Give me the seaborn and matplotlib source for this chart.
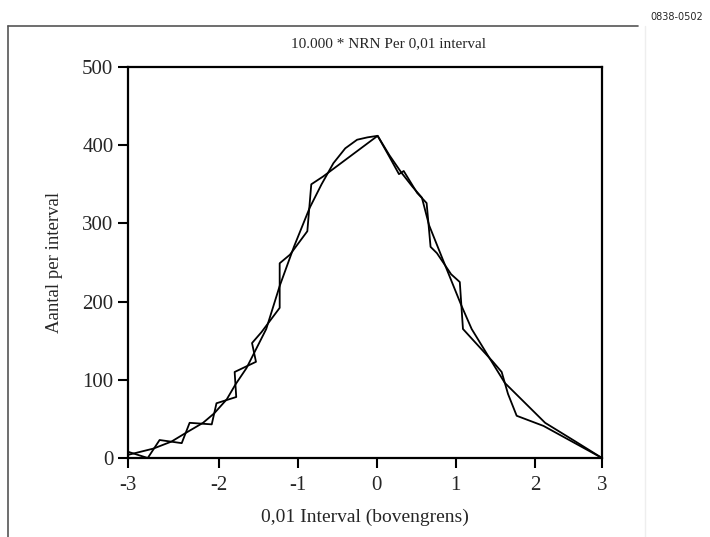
import matplotlib
matplotlib.use("Agg")
import matplotlib.pyplot as plt
import seaborn as sns
import pandas as pd

# Jagged frequency polygon (observed counts)
jag_x = [-3.15, -2.90, -2.75, -2.47, -2.37, -2.09, -2.03, -1.78, -1.80, -1.53,
         -1.58, -1.46, -1.23, -1.23, -1.10, -0.88, -0.83, -0.68, 0.01, 0.16,
         0.28, 0.34, 0.51, 0.63, 0.68, 0.76, 0.94, 1.05, 1.09, 1.28,
         1.47, 1.58, 1.66, 1.77, 2.11, 2.85]
jag_y = [8, 0, 23, 19, 45, 43, 70, 78, 110, 123,
         147, 161, 192, 249, 260, 290, 350, 360, 412, 385,
         363, 367, 339, 326, 270, 262, 235, 225, 165, 144,
         123, 110, 82, 54, 41, 0]

# Smooth (expected) curve
smooth_x = [-3.15, -2.83, -2.6, -2.42, -2.2, -2.06, -1.9, -1.79, -1.65, -1.55,
            -1.4, -1.23, -1.05, -0.85, -0.7, -0.55, -0.4, -0.25, -0.12, 0.01,
            0.16, 0.31, 0.45, 0.57, 0.66, 0.85, 1.07, 1.2, 1.4, 1.62,
            1.9, 2.13, 2.5, 2.85]
smooth_y = [4, 12, 21, 32, 45, 57, 75, 94, 115, 135,
            165, 220, 270, 320, 350, 377, 396, 407, 410, 412,
            387, 365, 347, 333, 298, 250, 195, 165, 132, 96,
            68, 45, 22, 0]

xtick_pos = [-3.15, -2, -1, 0, 1, 2, 2.85]
xtick_labels = ["-3", "-2", "-1", "0", "1", "2", "3"]
ytick_vals = [0, 100, 200, 300, 400, 500]

sns.set_theme(style="ticks")
plt.rcParams['font.family'] = ['Liberation Serif', 'DejaVu Serif']

fig = plt.figure(figsize=(7.1, 5.37), dpi=100)
ax = fig.add_axes([128/710, 1-458/537, (602-128)/710, (458-67)/537])

df_j = pd.DataFrame({"x": jag_x, "y": jag_y})
df_s = pd.DataFrame({"x": smooth_x, "y": smooth_y})
sns.lineplot(data=df_s, x="x", y="y", ax=ax, sort=False, estimator=None,
             color="black", lw=1.3)
sns.lineplot(data=df_j, x="x", y="y", ax=ax, sort=False, estimator=None,
             color="black", lw=1.3)

ax.set_xlim(-3.15, 2.85)
ax.set_ylim(0, 500)
ax.set_xticks(xtick_pos)
ax.set_xticklabels(xtick_labels)
ax.set_yticks(ytick_vals)
ax.tick_params(axis="both", direction="out", length=7, width=1.5,
               labelsize=15, color="black")
ax.tick_params(axis="x", pad=6)
for s in ax.spines.values():
    s.set_linewidth(1.6)
    s.set_color("black")
    s.set_visible(True)

ax.set_xlabel("0,01 Interval (bovengrens)", fontsize=14, labelpad=10)
ax.set_ylabel("Aantal per interval", fontsize=13.5, labelpad=14)
fig.text(388/710, 1-44/537, "10.000 * NRN Per 0,01 interval", ha="center",
         va="center", fontsize=11)

# outer frame lines
fig.add_artist(plt.Line2D([8/710, 638/710], [1-26/537, 1-26/537],
                          color="#555555", lw=1.2))
fig.add_artist(plt.Line2D([8/710, 8/710], [0, 1-26/537],
                          color="#555555", lw=1.2))
fig.add_artist(plt.Line2D([645/710, 645/710], [0, 1-26/537],
                          color="#eeeeee", lw=1.0))
fig.text(703/710, 1-17/537, "0838-0502", ha="right", va="center",
         fontsize=7, family="DejaVu Sans")

fig.savefig("out.png", dpi=100)
